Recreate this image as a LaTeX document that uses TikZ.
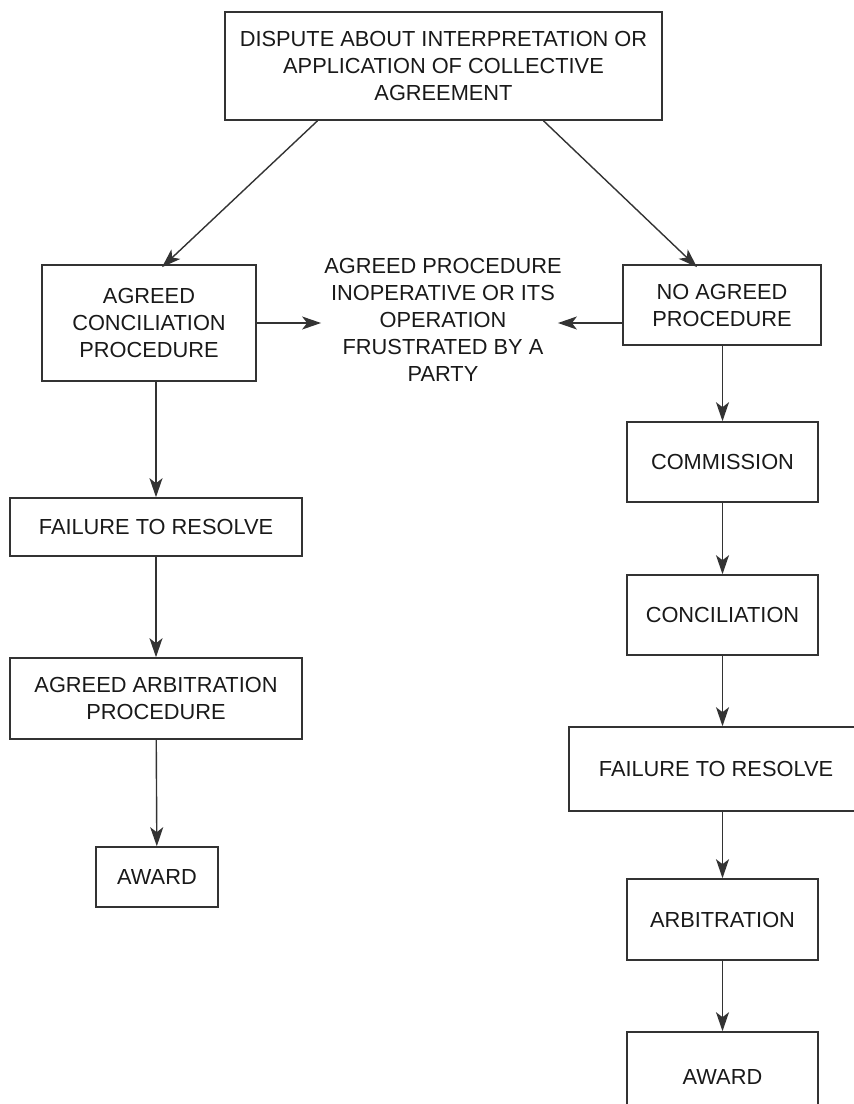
\documentclass[tikz,border=0pt]{standalone}
\usepackage{fontspec}
\setmainfont{Liberation Sans}
\usetikzlibrary{arrows.meta}

\tikzset{
    box/.style={draw, line width=1.6pt, align=center, inner sep=0pt},
    flow/.style={line width=1.4pt, -{Stealth[length=19pt, width=13pt, inset=5pt]}},
}

\begin{document}
\begin{tikzpicture}[x=1pt, y=-1pt, font=\fontsize{21.8}{27}\selectfont, color=black!80, text=black!90]
        \useasboundingbox (0,0) rectangle (854,1104);
        \clip (0,0) rectangle (854,1104);
        % top
        \node[box, minimum width=437pt, minimum height=108pt] (dispute) at (443.5,66)
            {DISPUTE ABOUT INTERPRETATION OR\\APPLICATION OF COLLECTIVE\\AGREEMENT};
        % left column
        \node[box, minimum width=214pt, minimum height=116pt] (agreedconc) at (149,323)
            {AGREED\\CONCILIATION\\PROCEDURE};
        \node[box, minimum width=292pt, minimum height=58pt] (failL) at (156,527) {FAILURE TO RESOLVE};
        \node[box, minimum width=292pt, minimum height=81pt] (arbL) at (156,698.5)
            {AGREED ARBITRATION\\PROCEDURE};
        \node[box, minimum width=122pt, minimum height=60pt] (awardL) at (157,877) {AWARD};
        % middle
        \node[align=center, inner sep=3pt] (frustrated) at (443,320)
            {AGREED PROCEDURE\\INOPERATIVE OR ITS\\OPERATION\\FRUSTRATED BY A\\PARTY};
        % right column
        \node[box, minimum width=198pt, minimum height=80pt] (noagreed) at (722,305)
            {NO AGREED\\PROCEDURE};
        \node[box, minimum width=191pt, minimum height=80pt] (commission) at (722.5,462) {COMMISSION};
        \node[box, minimum width=191pt, minimum height=80pt] (conciliation) at (722.5,615) {CONCILIATION};
        \node[box, minimum width=294pt, minimum height=84pt] (failR) at (716,769) {FAILURE TO RESOLVE};
        \node[box, minimum width=191pt, minimum height=81pt] (arbitration) at (722.5,919.5) {ARBITRATION};
        \node[box, minimum width=191pt, minimum height=90pt] (awardR) at (722.5,1077) {AWARD};

        \draw[flow] ([xshift=-126pt]dispute.south) -- ([xshift=13pt, yshift=-3pt]agreedconc.north);
        \draw[flow] ([xshift=100pt]dispute.south) -- ([xshift=-25pt, yshift=-3pt]noagreed.north);
        \draw[flow] (agreedconc.east) -- (agreedconc.east -| frustrated.west);
        \draw[flow] (noagreed.west |- agreedconc.east) -- ([xshift=-7pt]frustrated.east |- agreedconc.east);
        \draw[flow] (failL.north |- agreedconc.south) -- (failL.north);
        \draw[flow] (failL) -- (arbL);
        \draw[flow] (arbL) -- (awardL);
        \draw[flow] (commission.north |- noagreed.south) -- (commission.north);
        \draw[flow] (commission) -- (conciliation);
        \draw[flow] (conciliation.south) -- (conciliation.south |- failR.north);
        \draw[flow] (conciliation.south |- failR.south) -- (arbitration.north);
        \draw[flow] (arbitration) -- (awardR);
\end{tikzpicture}
\end{document}
